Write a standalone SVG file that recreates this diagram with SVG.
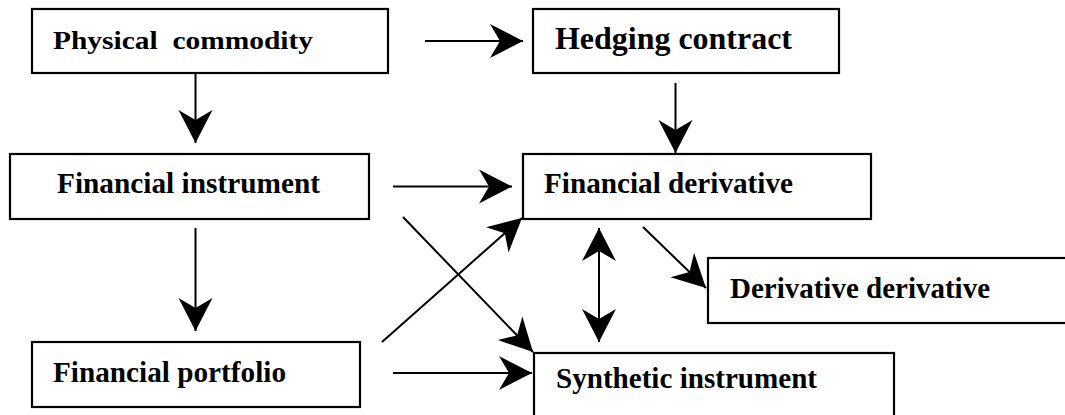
<svg xmlns="http://www.w3.org/2000/svg" width="1065" height="415" viewBox="0 0 1065 415">
  <style>
    .box { fill: #fff; stroke: #000; stroke-width: 2.2; }
    .lbl { font-family: "Liberation Serif", "Times New Roman", serif; font-weight: bold; fill: #000; white-space: pre; }
    .con { stroke: #000; stroke-width: 2; fill: none; }
  </style>
  <defs>
    <marker id="ah" markerUnits="userSpaceOnUse" viewBox="-35 -18 36 36" refX="0" refY="0" markerWidth="36" markerHeight="36" orient="auto-start-reverse">
      <path d="M0,0 L-33,-17 L-23,0 L-33,17 Z" fill="#000"/>
    </marker>
  </defs>
  <rect width="1065" height="415" fill="#fff"/>

  <g id="physical-commodity">
    <rect class="box" x="32" y="9" width="356" height="64"/>
    <text class="lbl" x="53" y="48.5" font-size="25" textLength="260" lengthAdjust="spacingAndGlyphs">Physical  commodity</text>
  </g>
  <g id="hedging-contract">
    <rect class="box" x="533" y="9" width="306" height="64"/>
    <text class="lbl" x="555" y="49" font-size="32" textLength="237" lengthAdjust="spacingAndGlyphs">Hedging contract</text>
  </g>
  <g id="financial-instrument">
    <rect class="box" x="10" y="154" width="359" height="65"/>
    <text class="lbl" x="57" y="193" font-size="29.5" textLength="263" lengthAdjust="spacingAndGlyphs">Financial instrument</text>
  </g>
  <g id="financial-derivative">
    <rect class="box" x="523" y="154" width="348" height="65"/>
    <text class="lbl" x="544" y="193" font-size="30" textLength="249" lengthAdjust="spacingAndGlyphs">Financial derivative</text>
  </g>
  <g id="derivative-derivative">
    <rect class="box" x="708" y="258" width="370" height="65"/>
    <text class="lbl" x="730" y="298" font-size="29" textLength="260" lengthAdjust="spacingAndGlyphs">Derivative derivative</text>
  </g>
  <g id="financial-portfolio">
    <rect class="box" x="32" y="342" width="328" height="65"/>
    <text class="lbl" x="53" y="382" font-size="29.5" textLength="233" lengthAdjust="spacingAndGlyphs">Financial portfolio</text>
  </g>
  <g id="synthetic-instrument">
    <rect class="box" x="534" y="353" width="360" height="70"/>
    <text class="lbl" x="556" y="388" font-size="30" textLength="261" lengthAdjust="spacingAndGlyphs">Synthetic instrument</text>
  </g>

  <g id="connectors">
    <line class="con" x1="425" y1="41" x2="523" y2="41" marker-end="url(#ah)"/>
    <line class="con" x1="195.5" y1="74" x2="195.5" y2="143" marker-end="url(#ah)"/>
    <line class="con" x1="675.5" y1="83" x2="675.5" y2="153" marker-end="url(#ah)"/>
    <line class="con" x1="393" y1="186.5" x2="512" y2="186.5" marker-end="url(#ah)"/>
    <line class="con" x1="195.5" y1="228" x2="195.5" y2="331" marker-end="url(#ah)"/>
    <line class="con" x1="403" y1="217" x2="533" y2="352" marker-end="url(#ah)"/>
    <line class="con" x1="382" y1="342" x2="522" y2="218" marker-end="url(#ah)"/>
    <line class="con" x1="393" y1="373" x2="532" y2="373" marker-end="url(#ah)"/>
    <line class="con" x1="599" y1="228" x2="599" y2="342" marker-start="url(#ah)" marker-end="url(#ah)"/>
    <line class="con" x1="643" y1="227" x2="706" y2="288" marker-end="url(#ah)"/>
  </g>
</svg>
